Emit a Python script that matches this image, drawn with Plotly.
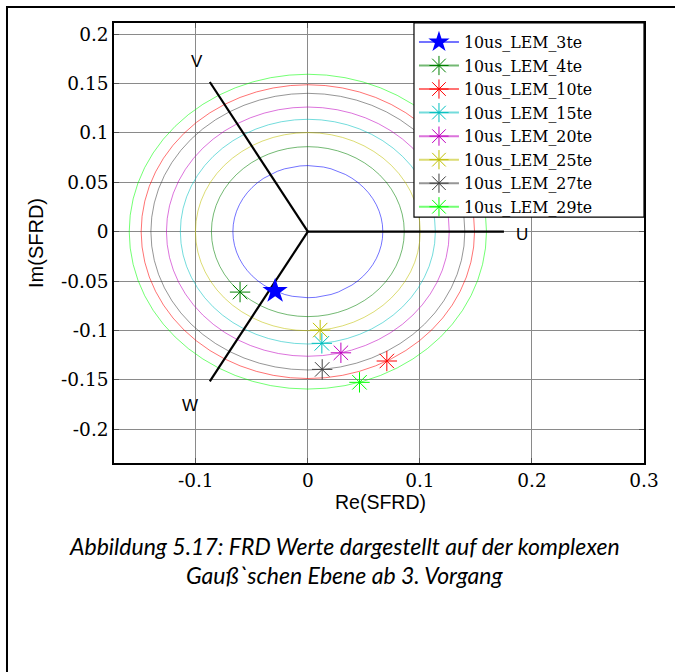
import numpy as np
import plotly.graph_objects as go

# ---------------- data ----------------
series_names = ["10us_LEM_3te", "10us_LEM_4te", "10us_LEM_10te", "10us_LEM_15te",
                "10us_LEM_20te", "10us_LEM_25te", "10us_LEM_27te", "10us_LEM_29te"]
re_vals = [-0.0292, -0.0605, 0.0705, 0.0125, 0.0295, 0.0110, 0.0128, 0.0461]
im_vals = [-0.0602, -0.0612, -0.1310, -0.1131, -0.1227, -0.0997, -0.1395, -0.1526]
colors = ["#0000FF", "#008000", "#FF0000", "#00BFBF",
          "#BF00BF", "#BFBF00", "#404040", "#00FF00"]
symbols = ["star", "asterisk-open", "asterisk-open", "asterisk-open",
           "asterisk-open", "asterisk-open", "asterisk-open", "asterisk-open"]

phase_names = ["U", "V", "W"]
phase_angles_deg = [0, 120, 240]
phase_len = 0.175
phase_label_pos = [(0.191, -0.0025), (-0.0988, 0.1725), (-0.105, -0.1756)]

x_ticks = [-0.1, 0, 0.1, 0.2, 0.3]
x_ticklabels = ["-0.1", "0", "0.1", "0.2", "0.3"]
y_ticks = [-0.2, -0.15, -0.1, -0.05, 0, 0.05, 0.1, 0.15, 0.2]
y_ticklabels = ["-0.2", "-0.15", "-0.1", "-0.05", "0", "0.05", "0.1", "0.15", "0.2"]

x_title = "Re(SFRD)"
y_title = "Im(SFRD)"
caption_lines = ["Abbildung 5.17: FRD Werte dargestellt auf der komplexen",
                 "Gauß`schen Ebene ab 3. Vorgang"]

SERIF = "'DejaVu Serif', 'Liberation Serif', serif"
SANS = "'Liberation Sans', Arial, sans-serif"


def rgba(hexcol, a):
    h = hexcol.lstrip("#")
    r, g, b = int(h[0:2], 16), int(h[2:4], 16), int(h[4:6], 16)
    return f"rgba({r},{g},{b},{a})"


fig = go.Figure()

# circles of constant magnitude through each point
theta = np.linspace(0, 2 * np.pi, 61)
for name, xr, yi, col in zip(series_names, re_vals, im_vals, colors):
    r = float(np.hypot(xr, yi))
    fig.add_trace(go.Scatter(
        x=r * np.cos(theta), y=r * np.sin(theta), mode="lines",
        line=dict(color=rgba(col, 0.55), width=1),
        showlegend=False, hoverinfo="skip", legendgroup=name))

# phase axes U, V, W
for ang in phase_angles_deg:
    a = np.deg2rad(ang)
    fig.add_trace(go.Scatter(
        x=[0, phase_len * np.cos(a)], y=[0, phase_len * np.sin(a)],
        mode="lines", line=dict(color="black", width=2.2),
        showlegend=False, hoverinfo="skip"))

# markers
for name, xr, yi, col, sym in zip(series_names, re_vals, im_vals, colors, symbols):
    if sym == "star":
        mk = dict(symbol="star", size=19, color=col, line=dict(width=0))
    else:
        mk = dict(symbol=sym, size=17, color=col, line=dict(width=1, color=col))
    fig.add_trace(go.Scatter(
        x=[xr], y=[yi], mode="lines+markers", name=name,
        line=dict(color=rgba(col, 0.55), width=2),
        marker=mk, legendgroup=name))

annotations = []
for lab, (lx, ly) in zip(phase_names, phase_label_pos):
    annotations.append(dict(x=lx, y=ly, xref="x", yref="y", text=lab, showarrow=False,
                            font=dict(family=SANS, size=17, color="black")))

annotations.append(dict(x=0.502, y=-0.089, xref="paper", yref="paper", text=x_title,
                        showarrow=False, yanchor="middle",
                        font=dict(family=SANS, size=19.5, color="black")))
annotations.append(dict(x=0.435, y=-0.225, xref="paper", yref="paper",
                        text="<i>" + caption_lines[0] + "</i>", showarrow=False,
                        font=dict(family="Lato", size=23, color="black")))
annotations.append(dict(x=0.435, y=-0.291, xref="paper", yref="paper",
                        text="<i>" + caption_lines[1] + "</i>", showarrow=False,
                        font=dict(family="Lato", size=23, color="black")))

# legend frame (white box behind the legend entries)
leg_x0, leg_y0 = 0.566, 0.559
shapes = [
    dict(type="rect", xref="paper", yref="paper",
         x0=leg_x0, x1=1.0, y0=leg_y0, y1=1.0,
         line=dict(color="black", width=1.2), fillcolor="white", layer="above"),
    dict(type="rect", xref="paper", yref="paper",
         x0=-0.2019, x1=1.2, y0=-0.7, y1=1.0364,
         line=dict(color="black", width=2), fillcolor="rgba(0,0,0,0)", layer="above"),
]

axis_common = dict(showline=True, linecolor="black", linewidth=1.5, mirror="ticks",
                   ticks="inside", ticklen=5, tickcolor="#555", showgrid=True,
                   gridcolor="#8a8a8a", gridwidth=1, zeroline=False,
                   tickfont=dict(family=SERIF, size=18.5, color="black"))

fig.update_layout(
    width=675, height=672,
    margin=dict(l=114, r=31, t=23, b=209),
    paper_bgcolor="white", plot_bgcolor="white",
    xaxis=dict(range=[-0.173, 0.3], tickvals=x_ticks, ticktext=x_ticklabels,
               **axis_common),
    yaxis=dict(range=[-0.2343, 0.2113], tickvals=y_ticks, ticktext=y_ticklabels,
               title=dict(text=y_title, standoff=12,
                          font=dict(family=SANS, size=20, color="black")),
               **axis_common),
    legend=dict(x=leg_x0, y=0.995, xanchor="left", yanchor="top",
                bgcolor="rgba(0,0,0,0)", borderwidth=0,
                font=dict(family=SERIF, size=15.8, color="black"),
                tracegroupgap=0, itemwidth=40),
    annotations=annotations,
    shapes=shapes,
    showlegend=True,
)

fig.write_html("out.html")
